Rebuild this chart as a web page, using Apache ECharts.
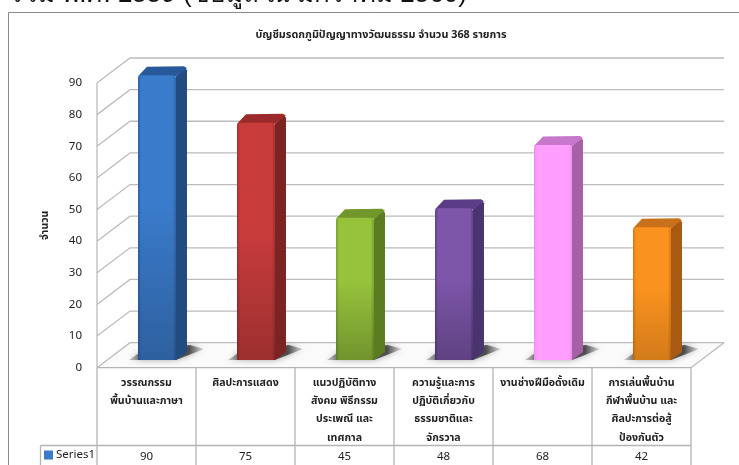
<!DOCTYPE html>
<html><head><meta charset="utf-8">
<style>html,body{margin:0;padding:0;background:#fff;overflow:hidden}#c{width:739px;height:465px;filter:blur(0.35px)}</style>
<script src="https://cdn.jsdelivr.net/npm/echarts@6/dist/echarts.min.js"></script>
</head><body><div id="c"></div>
<script>
const headerText = 'รวม พ.ศ. 2559 (ข้อมูล ณ มกราคม 2560)';
const chartTitle = 'บัญชีมรดกภูมิปัญญาทางวัฒนธรรม จำนวน 368 รายการ';
const yAxisName = 'จำนวน';
const seriesName = 'Series1';
const categories = ['วรรณกรรม\nพื้นบ้านและภาษา','ศิลปะการแสดง\n\n\n','แนวปฏิบัติทาง\nสังคม พิธีกรรม\nประเพณี และ\nเทศกาล','ความรู้และการ\nปฏิบัติเกี่ยวกับ\nธรรมชาติและ\nจักรวาล','งานช่างฝีมือดั้งเดิม\n\n\n','การเล่นพื้นบ้าน\nกีฬาพื้นบ้าน และ\nศิลปะการต่อสู้\nป้องกันตัว'];
const values = [90,75,45,48,68,42];
const yTicks = [0,10,20,30,40,50,60,70,80,90];
const frontColors = ['#3a7bcb','#c93c3c','#96c23c','#7d56aa','#ff9eff','#fa921f'];
const edgeColors  = ['#2c62a8','#a52e2e','#76a02c','#5f4088','#f08cf0','#d87510'];
const topColors   = ['#27599a','#9c2a2a','#71962a','#5a3d86','#c878cc','#c8701a'];
const sideColors  = ['#224c80','#7c2423','#5b7c20','#4a3470','#a660a6','#a85a12'];
const bottomShades = [.22,.22,.24,.24,0,.16];

const FONT = '"Noto Sans","Noto Sans Thai","DejaVu Sans",sans-serif';
const DEPTH_X = 33, DEPTH_Y = 25;
const GRID_COLOR = '#bcbcbc';
const TABLE_COLOR = '#b4b4b4';
const line = (x1,y1,x2,y2,c,w) => ({type:'line',shape:{x1,y1,x2,y2},style:{stroke:c,lineWidth:w},silent:true});

const chart = echarts.init(document.getElementById('c'));
chart.setOption({
  animation:false,
  textStyle:{fontFamily:FONT},
  title:[
    {text:headerText,left:4,top:-23,textStyle:{fontSize:26,fontWeight:'normal',color:'#111',fontFamily:'"Liberation Sans","Noto Sans",sans-serif'}},
    {text:chartTitle,left:376,top:24,textAlign:'center',textStyle:{fontSize:10.8,fontWeight:'bold',color:'#222',fontFamily:FONT}}
  ],
  graphic:[{type:'polyline',shape:{points:[[8.5,470],[8.5,12.5],[745,12.5]]},style:{stroke:'#8a8a8a',lineWidth:1,fill:null},silent:true,z:-1}],
  legend:{data:[seriesName],left:44,top:449,itemWidth:9,itemHeight:9,itemGap:3,icon:'rect',
    textStyle:{fontSize:11.5,color:'#222',fontFamily:FONT,padding:[0,0,0,-2]},selectedMode:false,padding:0},
  grid:{left:97,right:48,top:83,bottom:97.3},
  xAxis:{type:'category',data:categories,axisLine:{show:false},axisTick:{show:false},splitLine:{show:false},
    axisLabel:{interval:0,margin:6,fontSize:10.6,lineHeight:18.3,color:'#222',fontWeight:'bold',fontFamily:FONT,verticalAlign:'top',align:'center'}},
  yAxis:{type:'value',min:0,max:90,interval:10,axisLine:{show:false},axisTick:{show:false},splitLine:{show:false},
    axisLabel:{margin:15,fontSize:11.5,color:'#222',fontFamily:FONT,padding:[9,0,0,0]},
    name:yAxisName,nameLocation:'middle',nameGap:46,nameRotate:90,
    nameTextStyle:{fontSize:10.5,fontWeight:'bold',color:'#222',fontFamily:FONT}},
  series:[
    {type:'custom',name:'walls',z:1,silent:true,data:yTicks.map(v=>[0,v]),
     renderItem:(p,api)=>{
       const y=api.coord([0,api.value(1)])[1], xl=p.coordSys.x, xr=xl+p.coordSys.width, r=xr+DEPTH_X;
       const k=[];
       k.push({type:'polyline',shape:{points:[[xl,y],[xl+DEPTH_X,y-DEPTH_Y],[r,y-DEPTH_Y]]},style:{stroke:GRID_COLOR,lineWidth:1.3,fill:null},silent:true});
       if(api.value(1)===0){
         k.unshift({type:'polygon',shape:{points:[[xl,y],[xl+DEPTH_X,y-DEPTH_Y],[r,y-DEPTH_Y],[xr,y]]},style:{fill:'#fafafa'},silent:true});
         k.push(line(xr,y,r,y-DEPTH_Y,GRID_COLOR,1.3));
         k.push(line(xl,y,xl,p.coordSys.y,GRID_COLOR,1.3));
       }
       return {type:'group',children:k};
     }},
    {type:'custom',name:seriesName,z:3,itemStyle:{color:'#3a7bcb'},silent:true,data:values.map((v,i)=>[i,v]),
     renderItem:(p,api)=>{
       const i=api.value(0), b=api.coord([i,0]), t=api.coord([i,api.value(1)]);
       const cw=api.size([1,0])[0];
       const up=7.7, w=38, dx=11, dy=9;
       const x0=b[0]-cw*0.086, yb=b[1]-up, yt=t[1]-up;
       const x1=x0+w;
       const grad=new echarts.graphic.LinearGradient(0,0,1,0,[
         {offset:0,color:edgeColors[i]},{offset:.08,color:frontColors[i]},{offset:.92,color:frontColors[i]},{offset:1,color:edgeColors[i]}]);
       const shade=new echarts.graphic.LinearGradient(0,0,0,1,[
         {offset:0,color:'rgba(0,0,0,0)'},{offset:.45,color:'rgba(0,0,0,0)'},{offset:1,color:'rgba(0,0,0,'+bottomShades[i]+')'}]);
       const floorShadow=new echarts.graphic.LinearGradient(0,0,1,0,[
         {offset:0,color:'rgba(90,90,90,.3)'},{offset:.2,color:'rgba(50,50,50,.8)'},{offset:.8,color:'rgba(50,50,50,.8)'},{offset:1,color:'rgba(120,120,120,.25)'}]);
       return {type:'group',children:[
         {type:'polygon',silent:true,shape:{points:[[x0-9,yb],[x1,yb],[x1+28,yb-11],[x1+14,yb-15],[x0+4,yb-9]]},
          style:{fill:floorShadow,shadowBlur:6,shadowColor:'rgba(100,100,100,.7)'}},
         {type:'polygon',silent:true,shape:{points:[[x1,yt+1],[x1+dx-2,yt-dy+2],[x1+dx,yt-dy+4],[x1+dx,yb-dy+1],[x1,yb]]},style:{fill:sideColors[i]}},
         {type:'polygon',silent:true,shape:{points:[[x0,yt+1],[x0+dx-2,yt-dy+0.5],[x1+dx-3,yt-dy],[x1+dx,yt-dy+2],[x1,yt+1]]},style:{fill:topColors[i]}},
         {type:'rect',silent:true,shape:{x:x0,y:yt,width:w,height:yb-yt,r:[3,3,0,0]},style:{fill:grad}},
         {type:'rect',silent:true,shape:{x:x0,y:yt,width:w,height:yb-yt,r:[3,3,0,0]},style:{fill:shade}}
       ]};
     }},
    {type:'custom',name:'table',z:2,silent:true,data:values.map((v,i)=>[i,v]),
     renderItem:(p,api)=>{
       const i=api.value(0), b=api.coord([i,0]), cw=api.size([1,0])[0];
       const xl=b[0]-cw/2, y0=b[1], yRow=445.5, yEnd=470;
       const k=[line(xl,y0,xl,yEnd,TABLE_COLOR,1.3), line(xl,yRow,xl+cw,yRow,TABLE_COLOR,1.3), line(xl,y0,xl+cw,y0,TABLE_COLOR,1.3)];
       if(i===values.length-1) k.push(line(xl+cw,y0,xl+cw,yEnd,TABLE_COLOR,1.3));
       if(i===0) k.push(line(40.5,yRow,xl,yRow,TABLE_COLOR,1.3), line(40.5,yRow,40.5,yEnd,TABLE_COLOR,1.3));
       k.push({type:'text',silent:true,style:{text:String(api.value(1)),x:b[0],y:457,align:'center',verticalAlign:'middle',fontSize:11.5,fontFamily:FONT,fill:'#222'}});
       return {type:'group',children:k};
     }}
  ]
});
</script></body></html>
